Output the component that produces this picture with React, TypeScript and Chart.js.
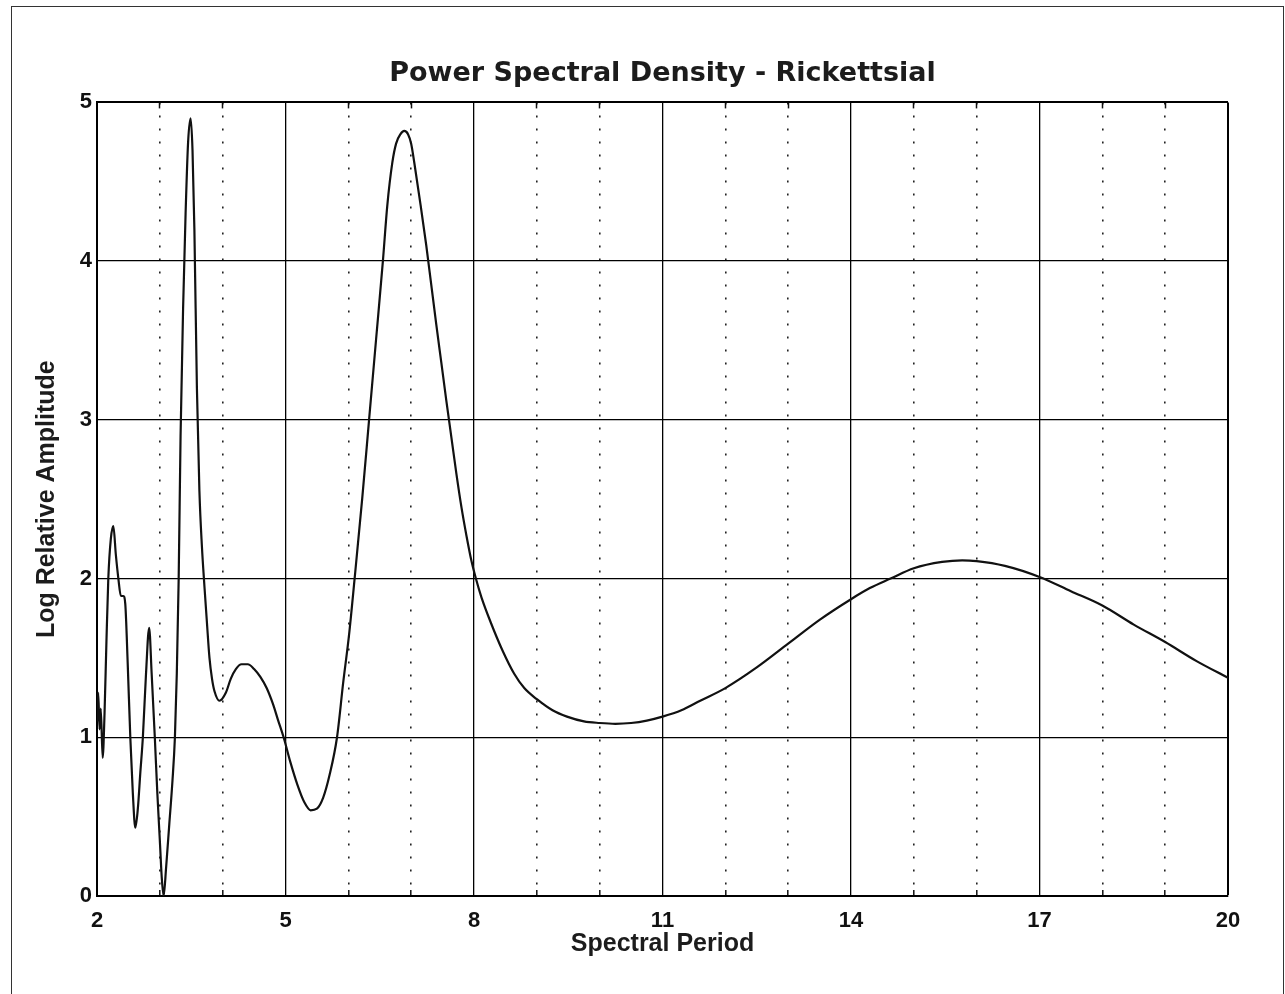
import React, { useEffect, useRef } from 'react';
import { Chart, registerables } from 'chart.js';

Chart.register(...registerables);

const chartTitle = 'Power Spectral Density - Rickettsial';
const xAxisTitle = 'Spectral Period';
const yAxisTitle = 'Log Relative Amplitude';

const periods = [
  2.0, 2.02, 2.04, 2.06, 2.09, 2.12, 2.15, 2.18, 2.22, 2.26, 2.3, 2.34, 2.38, 2.42, 2.45, 2.49,
  2.53, 2.57, 2.61, 2.65, 2.69, 2.73, 2.78, 2.83, 2.87, 2.92, 2.96, 3.0, 3.03, 3.06, 3.1, 3.15,
  3.2, 3.24, 3.27, 3.3, 3.33, 3.37, 3.41, 3.45, 3.49, 3.52, 3.55, 3.59, 3.63, 3.67, 3.71, 3.75,
  3.79, 3.83, 3.87, 3.95, 4.05, 4.13, 4.21, 4.3, 4.4, 4.5, 4.6, 4.7, 4.8, 4.88, 4.97, 5.08, 5.19,
  5.3, 5.4, 5.5, 5.6, 5.7, 5.82, 5.92, 6.01, 6.1, 6.22, 6.33, 6.44, 6.55, 6.62, 6.7, 6.76,
  6.83, 6.89, 6.95, 7.0, 7.05, 7.14, 7.24, 7.32, 7.4, 7.48, 7.56, 7.64, 7.72, 7.8, 7.88, 7.96,
  8.03, 8.12, 8.27, 8.45, 8.64, 8.8, 9.0, 9.25, 9.48, 9.75, 10.0, 10.25, 10.5, 10.75, 11.0, 11.3,
  11.6, 12.0, 12.5, 13.0, 13.5, 14.0, 14.3, 14.63, 15.0, 15.45, 15.77, 16.0, 16.45, 17.0, 17.5,
  18.0, 18.5, 19.0, 19.5, 20.0,
];

const amplitudes = [
  1.1, 1.28, 1.05, 1.18, 0.87, 1.15, 1.6, 2.0, 2.25, 2.33, 2.15, 2.0, 1.89, 1.89, 1.84, 1.45,
  1.0, 0.65, 0.43, 0.55, 0.78, 1.0, 1.4, 1.69, 1.4, 1.0, 0.65, 0.35, 0.12, 0.0, 0.18, 0.45,
  0.72, 1.0, 1.4, 2.0, 2.9, 3.7, 4.3, 4.75, 4.9, 4.7, 4.2, 3.2, 2.55, 2.2, 1.95, 1.72,
  1.5, 1.37, 1.29, 1.23, 1.28, 1.37, 1.43, 1.46, 1.46, 1.43, 1.38, 1.31, 1.21, 1.11, 1.0, 0.84, 0.7,
  0.59, 0.54, 0.55, 0.62, 0.76, 1.0, 1.35, 1.64, 2.0, 2.5, 3.0, 3.5, 4.0, 4.35, 4.62, 4.74,
  4.8, 4.82, 4.8, 4.74, 4.62, 4.38, 4.1, 3.85, 3.6, 3.36, 3.12, 2.89, 2.66, 2.45, 2.27, 2.11,
  2.0, 1.88, 1.72, 1.55, 1.4, 1.31, 1.24, 1.17, 1.13, 1.1, 1.09, 1.085, 1.09, 1.105, 1.13, 1.17,
  1.23, 1.31, 1.44, 1.59, 1.74, 1.87, 1.94, 2.0, 2.065, 2.105, 2.115, 2.11, 2.08, 2.01, 1.92,
  1.83, 1.71, 1.6, 1.48, 1.375,
];

const xTickLabels = [2, 5, 8, 11, 14, 17, 20];
const xMin = 2;
const xMax = 20;
const yMin = 0;
const yMax = 5;

export default function App() {
  const canvasRef = useRef<HTMLCanvasElement | null>(null);

  useEffect(() => {
    const canvas = canvasRef.current;
    if (!canvas) return;
    const points = periods.map((p, i) => ({ x: p, y: amplitudes[i] }));
    const isMajor = (v: number) => xTickLabels.includes(Math.round(v));
    const minorTickColor = (ctx: any) => (ctx.tick && !isMajor(ctx.tick.value) ? '#111' : 'rgba(0,0,0,0)');

    const chart = new Chart(canvas, {
      type: 'line',
      data: {
        datasets: [
          {
            data: points,
            borderColor: '#111',
            borderWidth: 2.2,
            pointRadius: 0,
            fill: false,
            cubicInterpolationMode: 'monotone',
            xAxisID: 'x',
            yAxisID: 'y',
          },
        ],
      },
      options: {
        animation: false,
        responsive: false,
        events: [],
        layout: { padding: { left: 0, right: 57, top: 0, bottom: 0 } },
        plugins: {
          legend: { display: false },
          tooltip: { enabled: false },
          title: {
            display: true,
            text: chartTitle,
            fullSize: false,
            color: '#1c1c1c',
            font: { family: '"DejaVu Sans", sans-serif', size: 27, weight: 'bold' },
            padding: { top: 58, bottom: 12 },
          },
        },
        scales: {
          x: {
            type: 'linear',
            position: 'bottom',
            min: xMin,
            max: xMax,
            afterFit: (scale: any) => {
              scale.height = 98;
            },
            ticks: {
              stepSize: 1,
              autoSkip: false,
              maxRotation: 0,
              padding: 18,
              color: '#111',
              font: { family: '"Liberation Sans", Arial, sans-serif', size: 22, weight: 'bold' },
              callback: (value: any) => (isMajor(Number(value)) ? String(value) : ''),
            },
            grid: {
              drawTicks: true,
              tickLength: -6,
              tickWidth: 1.5,
              tickColor: minorTickColor,
              color: (ctx: any) => (ctx.tick && isMajor(ctx.tick.value) ? '#000' : '#222'),
              lineWidth: (ctx: any) => {
                if (!ctx.tick) return 1.3;
                if (ctx.tick.value === xMax) return 2;
                return isMajor(ctx.tick.value) ? 1.3 : 1.6;
              },
            },
            border: {
              display: true,
              color: '#000',
              width: 2,
              dash: (ctx: any) => (ctx && ctx.tick && !isMajor(ctx.tick.value) ? [2, 11] : []),
            },
            title: {
              display: true,
              text: xAxisTitle,
              color: '#1c1c1c',
              font: { family: '"Liberation Sans", Arial, sans-serif', size: 25, weight: 'bold' },
              padding: { top: 0, bottom: 35 },
            },
          },
          xTop: {
            type: 'linear',
            position: 'top',
            min: xMin,
            max: xMax,
            afterFit: (scale: any) => {
              scale.height = 0;
            },
            ticks: {
              stepSize: 1,
              autoSkip: false,
              display: false,
            },
            grid: {
              drawOnChartArea: false,
              drawTicks: true,
              tickLength: -6,
              tickWidth: 1.5,
              tickColor: minorTickColor,
            },
            border: { display: false },
          },
          y: {
            type: 'linear',
            position: 'left',
            min: yMin,
            max: yMax,
            afterFit: (scale: any) => {
              scale.width = 97;
            },
            ticks: {
              stepSize: 1,
              padding: 5,
              color: '#111',
              font: { family: '"Liberation Sans", Arial, sans-serif', size: 22, weight: 'bold' },
            },
            grid: {
              drawTicks: false,
              color: '#000',
              lineWidth: (ctx: any) => (ctx.tick && ctx.tick.value === yMax ? 2 : 1.3),
            },
            border: { display: true, color: '#000', width: 2 },
            title: {
              display: true,
              text: yAxisTitle,
              color: '#1c1c1c',
              font: { family: '"Liberation Sans", Arial, sans-serif', size: 25, weight: 'bold' },
              padding: { top: 32, bottom: 0 },
            },
          },
        },
      },
    } as any);

    return () => {
      chart.destroy();
    };
  }, []);

  return (
    <div style={{ position: 'absolute', left: 0, top: 0, width: 1285, height: 994, background: '#fff' }}>
      <div
        style={{
          position: 'absolute',
          left: 11,
          top: 6,
          width: 1271,
          height: 988,
          borderLeft: '1px solid #333',
          borderTop: '1px solid #333',
          borderRight: '1px solid #333',
        }}
      />
      <canvas
        ref={canvasRef}
        width={1285}
        height={994}
        style={{ position: 'absolute', left: 0, top: 0, width: 1285, height: 994, display: 'block' }}
      />
    </div>
  );
}
